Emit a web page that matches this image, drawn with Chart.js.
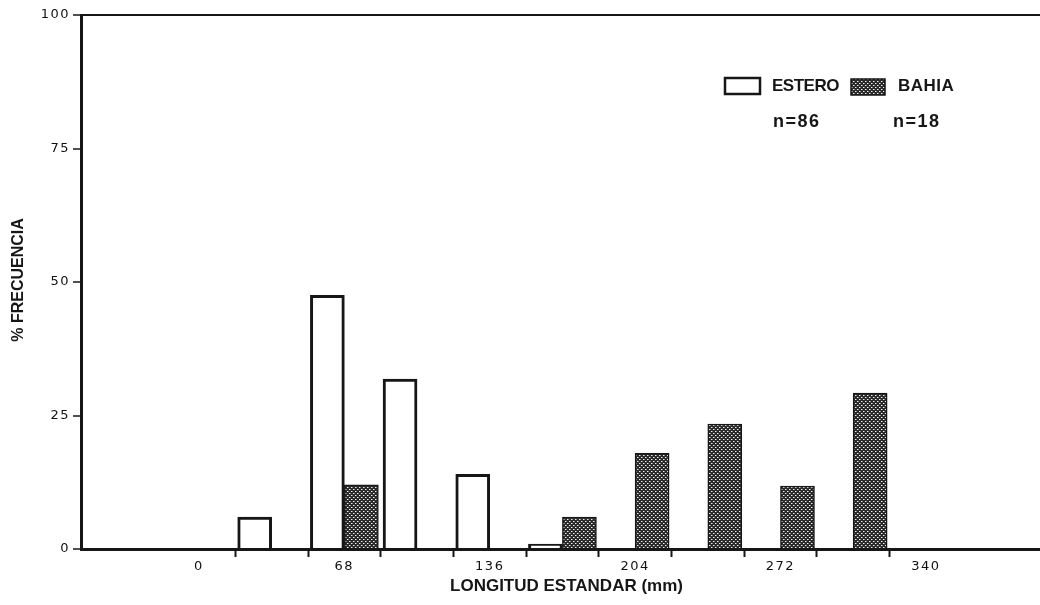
<!DOCTYPE html>
<html>
<head>
<meta charset="utf-8">
<script src="https://cdn.jsdelivr.net/npm/chart.js@4/dist/chart.umd.min.js"></script>
<style>
  html, body { margin: 0; padding: 0; background: #ffffff; overflow: hidden; }
  #wrap { width: 1040px; height: 605px; }
</style>
</head>
<body>
<div id="wrap"><canvas id="chart" width="1040" height="605"></canvas></div>
<script>
// Length classes (bin centres, mm) and percentage frequency per site
const lengthBins = [0, 34, 68, 102, 136, 170, 204, 238, 272, 306, 340];
const esteroPct  = [0, 6.0, 47.5, 31.8, 14.0, 0.9, 0, 0, 0, 0, 0];
const bahiaPct   = [0, 0, 12.0, 0, 0, 6.0, 17.9, 23.4, 11.8, 29.2, 0];

// Axis labelling
const xTickLabels = [0, 68, 136, 204, 272, 340];
const xClassEdges = [17, 51, 85, 119, 153, 187, 221, 255, 289, 323];
const yTickValues = [0, 25, 50, 75, 100];
const seriesNames = ['ESTERO', 'BAHIA'];
const sampleSizes = ['n=86', 'n=18'];
const xTitle = 'LONGITUD ESTANDAR (mm)';
const yTitle = '% FRECUENCIA';

const INK = '#161616';

// Stippled fill: dark ground with a fine grid of light dots
function stipple() {
  const tile = document.createElement('canvas');
  tile.width = 4; tile.height = 4;
  const g = tile.getContext('2d');
  g.fillStyle = '#2a2a2a';
  g.fillRect(0, 0, 4, 4);
  g.fillStyle = '#f0f0f0';
  g.fillRect(1, 1, 1, 1);
  g.fillRect(3, 3, 1, 1);
  g.fillStyle = '#8a8a8a';
  g.fillRect(2, 1, 1, 1);
  g.fillRect(0, 3, 1, 1);
  return g.createPattern(tile, 'repeat');
}
const dots = stipple();

// Axis titles, legend and sample sizes
const annotate = {
  id: 'annotate',
  beforeDraw(chart) {
    chart.ctx.letterSpacing = '1.5px';
  },
  afterDraw(chart) {
    const c = chart.ctx;
    const a = chart.chartArea;
    c.save();
    c.letterSpacing = '0px';
    c.fillStyle = INK;
    c.textBaseline = 'middle';

    c.font = 'bold 17px "Liberation Sans", Arial, sans-serif';
    c.textAlign = 'center';
    c.fillText(xTitle, (a.left + a.right) / 2 + 6, a.bottom + 37);

    c.save();
    c.font = 'bold 16px "Liberation Sans", Arial, sans-serif';
    c.translate(a.left - 62, (a.top + a.bottom) / 2 - 2);
    c.rotate(-Math.PI / 2);
    c.fillText(yTitle, 0, 0);
    c.restore();

    // legend
    const lx = a.left + 644, ly = a.top + 63;
    c.lineWidth = 2.5;
    c.strokeStyle = INK;
    c.fillStyle = '#ffffff';
    c.fillRect(lx, ly, 35, 16);
    c.strokeRect(lx, ly, 35, 16);
    c.fillStyle = dots;
    c.fillRect(lx + 126, ly + 1, 34, 16);
    c.lineWidth = 1.5;
    c.strokeRect(lx + 126, ly + 1, 34, 16);

    c.fillStyle = INK;
    c.textAlign = 'left';
    c.font = 'bold 17px "Liberation Sans", Arial, sans-serif';
    c.letterSpacing = '-0.5px';
    c.fillText(seriesNames[0], lx + 47, ly + 8);
    c.letterSpacing = '0.5px';
    c.fillText(seriesNames[1], lx + 173, ly + 8);
    c.font = 'bold 18px "Liberation Sans", Arial, sans-serif';
    c.letterSpacing = '1.5px';
    c.fillText(sampleSizes[0], lx + 48, ly + 44);
    c.fillText(sampleSizes[1], lx + 168, ly + 44);
    c.restore();
  }
};

new Chart(document.getElementById('chart'), {
  type: 'bar',
  data: {
    datasets: [
      {
        label: seriesNames[0],
        data: lengthBins.map((x, i) => ({ x, y: esteroPct[i] })),
        backgroundColor: '#ffffff',
        borderColor: INK,
        borderWidth: 3,
        borderSkipped: 'bottom'
      },
      {
        label: seriesNames[1],
        data: lengthBins.map((x, i) => ({ x, y: bahiaPct[i] })),
        backgroundColor: dots,
        borderColor: INK,
        borderWidth: 1.5,
        borderSkipped: 'bottom'
      }
    ]
  },
  options: {
    responsive: false,
    animation: false,
    devicePixelRatio: 1,
    layout: { padding: { top: 15, right: 0, bottom: 0, left: 0 } },
    datasets: { bar: { barThickness: 34 } },
    plugins: { legend: { display: false }, tooltip: { enabled: false } },
    scales: {
      x: {
        type: 'linear',
        min: -55.2,
        max: 393.4,
        offset: false,
        afterFit(s) { s.height = 56; },
        afterBuildTicks(s) {
          s.ticks = [...xTickLabels, ...xClassEdges].sort((p, q) => p - q).map(v => ({ value: v }));
        },
        grid: {
          offset: false,
          drawOnChartArea: false,
          drawTicks: true,
          tickLength: 8,
          tickWidth: 2,
          tickColor: c => (c.tick && xClassEdges.includes(c.tick.value)) ? INK : 'rgba(0,0,0,0)'
        },
        border: { color: INK, width: 3 },
        ticks: {
          autoSkip: false,
          maxRotation: 0,
          padding: 2,
          color: '#111111',
          font: { family: '"DejaVu Sans", sans-serif', size: 13 },
          callback: v => xTickLabels.includes(v) ? String(v) : ''
        }
      },
      y: {
        min: 0,
        max: 100,
        afterFit(s) { s.width = 81; },
        afterBuildTicks(s) { s.ticks = yTickValues.map(v => ({ value: v })); },
        grid: {
          color: c => (c.tick && c.tick.value === 100) ? INK : 'rgba(0,0,0,0)',
          lineWidth: 2,
          drawTicks: true,
          tickLength: 8,
          tickWidth: 1.5,
          tickColor: INK
        },
        border: { color: INK, width: 3 },
        ticks: {
          padding: 3,
          color: '#111111',
          font: { family: '"DejaVu Sans", sans-serif', size: 13 }
        }
      }
    }
  },
  plugins: [annotate]
});
</script>
</body>
</html>
